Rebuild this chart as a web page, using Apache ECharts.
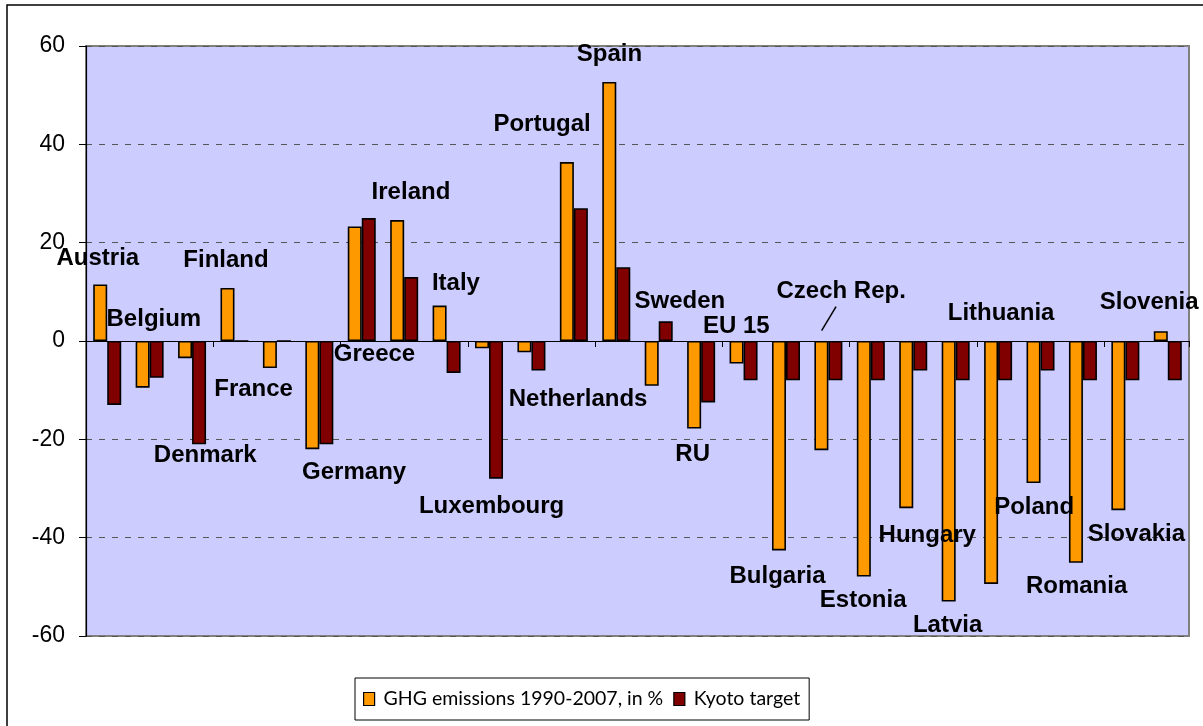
<!DOCTYPE html>
<html>
<head>
<meta charset="utf-8">
<script src="https://cdn.jsdelivr.net/npm/echarts@6/dist/echarts.min.js"></script>
<style>html,body{margin:0;padding:0;background:#fff}#c{width:1203px;height:726px}</style>
</head>
<body>
<div id="c"></div>
<script>
// ---- data ----
const countries = ['Austria','Belgium','Denmark','Finland','France','Germany','Greece','Ireland','Italy','Luxembourg','Netherlands','Portugal','Spain','Sweden','RU','EU 15','Bulgaria','Czech Rep.','Estonia','Hungary','Latvia','Lithuania','Poland','Romania','Slovakia','Slovenia'];
const ghgEmissions = [11.5,-9.5,-3.5,10.8,-5.5,-22.0,23.3,24.6,7.2,-1.5,-2.3,36.4,52.7,-9.1,-17.8,-4.6,-42.6,-22.2,-47.9,-34.0,-53.0,-49.4,-28.9,-45.1,-34.4,2.0];
const kyotoTarget = [-13,-7.5,-21,0,0,-21,25,13,-6.5,-28,-6,27,15,4,-12.5,-8,-8,-8,-8,-6,-8,-8,-6,-8,-8,-8];
const yTicks = [-60,-40,-20,0,20,40,60];
const seriesNames = ['GHG emissions 1990-2007, in %','Kyoto target'];

// ---- annotation layout (category-position, value) for country name labels ----
const labelSpots = [[0.28,16.9],[1.6,4.4],[2.81,-23.3],[3.3,16.4],[3.95,-9.8],[6.32,-26.8],[6.8,-2.8],[7.66,30.2],[8.72,11.8],[9.56,-33.6],[11.6,-11.9],[10.75,44],[12.34,58.2],[14.0,8.05],[14.3,-23.1],[15.33,3.0],[16.3,-47.9],[17.8,10.1],[18.32,-52.8],[19.83,-39.5],[20.31,-57.8],[21.57,5.7],[22.35,-33.8],[23.35,-50.0],[24.76,-39.4],[25.06,7.8]];
const czechLeader = [[17.68,7.0],[17.34,2.1]];

const chart = echarts.init(document.getElementById('c'), null, {renderer:'canvas'});
const FONT = '"Liberation Sans", Arial, sans-serif';

const option = {
  animation: false,
  backgroundColor: '#fff',
  graphic: [{
    type: 'rect', z: -10, silent: true,
    shape: {x: 7, y: 5, width: 1260, height: 800},
    style: {fill: 'none', stroke: '#000', lineWidth: 1.5}
  }],
  grid: {left: 86, top: 46, right: 14, height: 590, show: true, backgroundColor: '#CCCCFF', borderColor: '#808080', borderWidth: 2},
  legend: {
    data: seriesNames,
    left: 355, top: 678,
    padding: [11, 9, 11, 8],
    backgroundColor: '#fff', borderColor: '#000', borderWidth: 1,
    itemWidth: 11, itemHeight: 13, itemGap: 10,
    icon: 'rect',
    itemStyle: {borderColor: '#000', borderWidth: 1.2},
    textStyle: {fontFamily: 'Lato, sans-serif', fontSize: 19.5, color: '#000', padding: [0,0,0,4]}
  },
  xAxis: [{
    type: 'category', data: countries,
    axisLine: {onZero: true, lineStyle: {color: '#000', width: 1.2}},
    axisTick: {show: true, length: 6, alignWithLabel: false, lineStyle: {color: '#000'}},
    axisLabel: {show: false},
    splitLine: {show: false}
  },{
    type: 'value', min: 0, max: countries.length, show: false
  }],
  yAxis: [{
    type: 'value', min: -60, max: 60, interval: 20,
    axisLine: {show: true, lineStyle: {color: '#000', width: 1.2}},
    axisTick: {show: true, length: 7, lineStyle: {color: '#000'}},
    axisLabel: {margin: 21, fontFamily: FONT, fontSize: 23, color: '#000',
      formatter: v => yTicks.includes(v) ? String(v) : ''},
    splitLine: {show: true, lineStyle: {color: '#555', type: [6, 7], width: 1.2}}
  }],
  series: [{
    name: seriesNames[0], type: 'bar', data: ghgEmissions,
    barWidth: 14, barGap: '0%',
    itemStyle: {color: '#FF9900', borderColor: '#000', borderWidth: 1.6}
  },{
    name: seriesNames[1], type: 'bar', data: kyotoTarget,
    barWidth: 14, barGap: '0%',
    itemStyle: {color: '#800000', borderColor: '#000', borderWidth: 1.6}
  },{
    type: 'scatter', xAxisIndex: 1, symbolSize: 1, silent: true, z: 10,
    itemStyle: {opacity: 0},
    data: labelSpots.map((p, i) => ({value: p, name: countries[i]})),
    label: {show: true, position: 'inside', formatter: p => p.name,
      fontFamily: FONT, fontWeight: 'bold', fontSize: 24, color: '#000',
      textBorderWidth: 0, textBorderColor: 'transparent', opacity: 1}
  },{
    type: 'line', xAxisIndex: 1, data: czechLeader, symbol: 'none', silent: true,
    lineStyle: {color: '#000', width: 1.5}
  }]
};
chart.setOption(option);
</script>
</body>
</html>
